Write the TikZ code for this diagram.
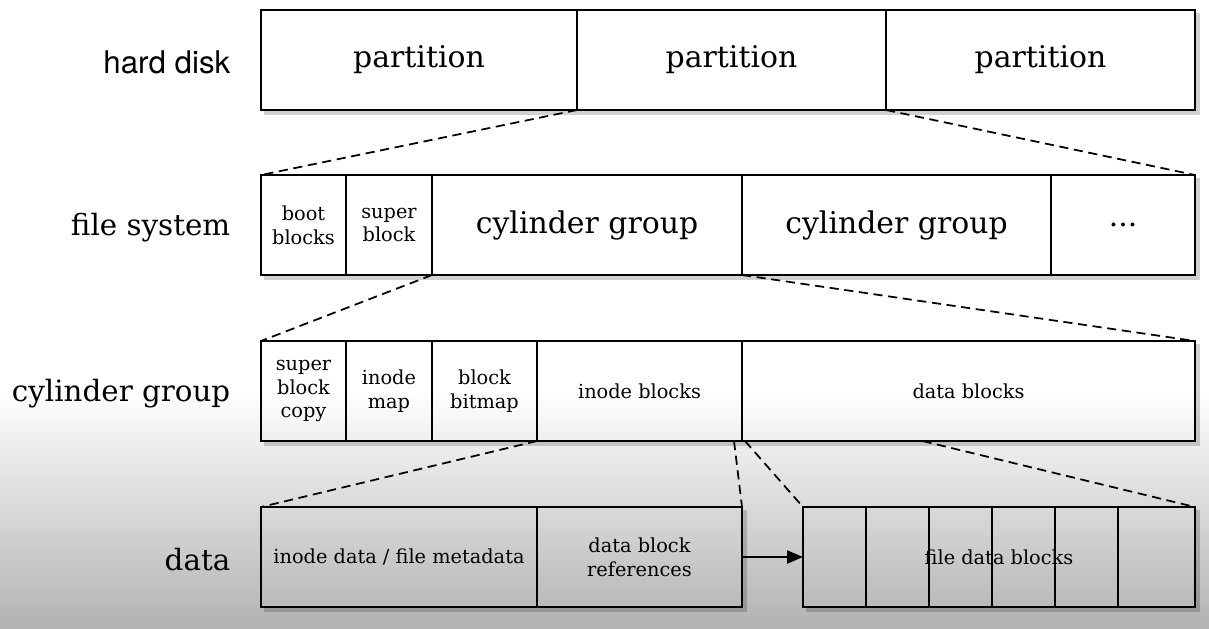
\documentclass[tikz,border=0pt]{standalone}
\usepackage{fontspec}
\setmainfont{DejaVu Serif}
\newfontfamily\labelsans{TeX Gyre Heros}
\usetikzlibrary{arrows.meta}
\tikzset{cell/.style={draw, line width=0.6pt, minimum height=10mm, inner sep=0pt,
           outer sep=0pt, align=center, font=\fontsize{8.5}{10}\selectfont},
         smalltext/.style={font=\fontsize{5.5}{6.8}\selectfont},
         rowlabel/.style={anchor=east, inner sep=0pt, font=\fontsize{8.35}{10}\selectfont},
         cellline/.style={line width=0.6pt},
         zoomline/.style={dash pattern=on 2.6pt off 1.6pt, line width=0.5pt},
         shadowline/.style={line width=0.9pt, black, opacity=0.18}}

\begin{document}
\begin{tikzpicture}[x=0.1mm, y=-0.1mm]

        % Background
        \useasboundingbox (0,0) rectangle (1209,628);
        \fill[white] (0,0) rectangle (1209,628);
        \shade[top color=white, bottom color=black!30] (0,390) rectangle (1209,628);

        % Row labels
        \node[rowlabel, font=\labelsans\fontsize{8.9}{10}\selectfont] (lhd) at (231,62) {hard disk};
        \node[rowlabel] (lfs) at (231,228) {file system};
        \node[rowlabel] (lcg) at (231,394) {cylinder group};
        \node[rowlabel] (ld) at (231,560) {data};

        % Hard disk
        \node[cell, minimum width=31.6mm] (p1) at (419,60) {partition};
        \node[cell, minimum width=30.9mm] (p2) at (731.5,60) {partition};
        \node[cell, minimum width=30.9mm] (p3) at (1040.5,60) {partition};

        % File system
        \node[cell, smalltext, minimum width=8.5mm] (bb) at (303.5,225) {boot\\blocks};
        \node[cell, smalltext, minimum width=8.6mm] (sb) at (389,225) {super\\block};
        \node[cell, minimum width=31mm] (cg1) at (587,225) {cylinder group};
        \node[cell, minimum width=30.9mm] (cg2) at (896.5,225) {cylinder group};
        \node[cell, minimum width=14.4mm] (dots) at (1123,225) {...};

        % Cylinder group
        \node[cell, smalltext, minimum width=8.5mm] (sbc) at (303.5,391) {super\\block\\copy};
        \node[cell, smalltext, minimum width=8.6mm] (im) at (389,391) {inode\\map};
        \node[cell, smalltext, minimum width=10.5mm] (bbm) at (484.5,391) {block\\bitmap};
        \node[cell, smalltext, minimum width=20.5mm] (ib) at (639.5,391) {inode blocks};
        \node[cell, smalltext, minimum width=45.3mm] (db) at (968.5,391) {data blocks};

        % Data
        \node[cell, smalltext, minimum width=27.6mm] (id) at (399,557) {inode data / file metadata};
        \node[cell, smalltext, minimum width=20.5mm] (dbr) at (639.5,557) {data block\\references};
        \node[cell, smalltext, minimum width=39.2mm] (fdb) at (999,557) {file data blocks};
        \foreach \i in {1,...,5}
            \draw[cellline] ([xshift=\i*6.3mm]fdb.south west) -- ([xshift=\i*6.3mm]fdb.north west);

        % Shadows
        \foreach \a/\b in {p1/p3, bb/dots, sbc/db, id/dbr, fdb/fdb}
            \draw[shadowline] ([shift={(0.3mm,-0.3mm)}]\a.south west)
                -- ([shift={(0.3mm,-0.3mm)}]\b.south east)
                -- ([shift={(0.3mm,-0.3mm)}]\b.north east);

        % Arrow
        \draw[-{Triangle[length=4.5pt,width=3.7pt]}, line width=0.5pt] (dbr) -- (fdb);

        % Zoom lines
        \draw[zoomline] (p1.south east) -- (bb.north west);
        \draw[zoomline] (p2.south east) -- (dots.north east);
        \draw[zoomline] (sb.south east) -- (sbc.north west);
        \draw[zoomline] (cg1.south east) -- (db.north east);
        \draw[zoomline] (bbm.south east) -- (id.north west);
        \draw[zoomline] ([xshift=-0.8mm]ib.south east) -- (dbr.north east);
        \draw[zoomline] ([xshift=0.3mm]db.south west) -- (fdb.north west);
        \draw[zoomline] ([xshift=-4.6mm]db.south) -- (fdb.north east);

    \end{tikzpicture}
\end{document}
